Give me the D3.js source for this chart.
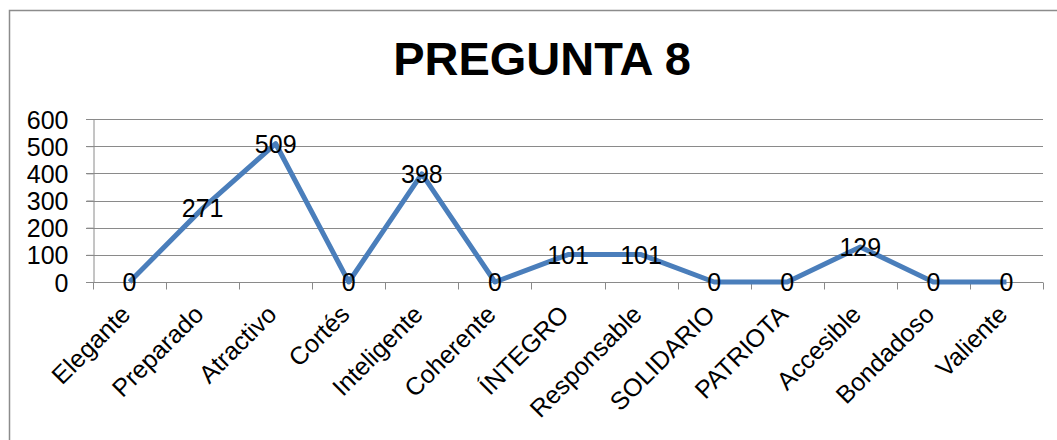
<!DOCTYPE html>
<html>
<head>
<meta charset="utf-8">
<script src="https://cdn.jsdelivr.net/npm/d3@7"></script>
<style>
  body { margin: 0; background: #fff; }
  svg { display: block; font-family: "Liberation Sans", Arial, sans-serif; }
</style>
</head>
<body>
<div id="grafico"></div>
<script>
// datos
const categorias = ["Elegante", "Preparado", "Atractivo", "Cortés", "Inteligente", "Coherente",
	"ÍNTEGRO", "Responsable", "SOLIDARIO", "PATRIOTA", "Accesible", "Bondadoso", "Valiente"];
const valores = [0, 271, 509, 0, 398, 0, 101, 101, 0, 0, 129, 0, 0];
const ticksY = [0, 100, 200, 300, 400, 500, 600];
const titulo = "PREGUNTA 8";

const ancho = 1057;
const alto = 440;
const marginLeft = 93;
const marginRight = 14;
const marginTop = 119;
const yCero = 282;
const tamLetra = 25;

const svg = d3.select("#grafico")
	.append("svg")
	.attr("width", ancho)
	.attr("height", alto);

// borde del area del grafico
svg.append("rect")
	.attr("x", 9.5)
	.attr("y", 10.5)
	.attr("width", ancho + 20)
	.attr("height", alto + 20)
	.attr("fill", "none")
	.attr("stroke", "#8c8c8c")
	.attr("stroke-width", 1.5);

svg.append("text")
	.attr("x", 542)
	.attr("y", 75)
	.attr("text-anchor", "middle")
	.attr("font-size", 47)
	.attr("font-weight", "bold")
	.text(titulo);

const xScale = d3.scaleBand()
	.domain(categorias)
	.range([marginLeft, ancho - marginRight]);

const yScale = d3.scaleLinear()
	.domain([0, 600])
	.range([yCero, marginTop]);

// lineas de division
svg.append("g")
	.selectAll("line")
	.data(ticksY)
	.enter()
	.append("line")
	.attr("x1", marginLeft - 7)
	.attr("x2", ancho - marginRight)
	.attr("y1", d => Math.round(yScale(d)) + 0.5)
	.attr("y2", d => Math.round(yScale(d)) + 0.5)
	.attr("stroke", "#8a8a8a")
	.attr("stroke-width", 1);

// eje Y
const yAxis = d3.axisLeft(yScale).tickValues(ticksY).tickSize(7).tickSizeOuter(0);
const gY = svg.append("g")
	.attr("transform", "translate(" + (marginLeft + 0.5) + ",0)")
	.call(yAxis);
gY.selectAll("line, path").attr("stroke", "#8a8a8a");
gY.selectAll("text")
	.attr("font-size", tamLetra)
	.attr("font-family", "Liberation Sans, Arial, sans-serif")
	.attr("fill", "#000")
	.attr("x", -25)
	.attr("dy", "0.36em");

// eje X con marcas entre categorias
const gX = svg.append("g")
	.attr("transform", "translate(0," + (yCero + 0.5) + ")");
gX.append("line")
	.attr("x1", marginLeft)
	.attr("x2", ancho - marginRight)
	.attr("stroke", "#8a8a8a");
const bordes = categorias.map(c => xScale(c)).concat([ancho - marginRight]);
gX.selectAll("line.marca")
	.data(bordes)
	.enter()
	.append("line")
	.attr("class", "marca")
	.attr("x1", d => Math.round(d) + 0.5)
	.attr("x2", d => Math.round(d) + 0.5)
	.attr("y1", 0)
	.attr("y2", 7)
	.attr("stroke", "#8a8a8a");

gX.selectAll("text")
	.data(categorias)
	.enter()
	.append("text")
	.attr("transform", d => "translate(" + (xScale(d) + xScale.bandwidth() / 2 - 10) + ",21) rotate(-45)")
	.attr("text-anchor", "end")
	.attr("dy", "0.7em")
	.attr("font-size", tamLetra)
	.text(d => d);

// linea de la serie
const linea = d3.line()
	.x((d, i) => xScale(categorias[i]) + xScale.bandwidth() / 2)
	.y(d => yScale(d));

svg.append("path")
	.datum(valores)
	.attr("d", linea)
	.attr("fill", "none")
	.attr("stroke", "#4a7ebb")
	.attr("stroke-width", 5)
	.attr("stroke-linejoin", "round");

// etiquetas de datos
svg.append("g")
	.selectAll("text")
	.data(valores)
	.enter()
	.append("text")
	.attr("x", (d, i) => xScale(categorias[i]) + xScale.bandwidth() / 2)
	.attr("y", d => yScale(d))
	.attr("dy", "0.36em")
	.attr("text-anchor", "middle")
	.attr("font-size", tamLetra)
	.text(d => d);
</script>
</body>
</html>
